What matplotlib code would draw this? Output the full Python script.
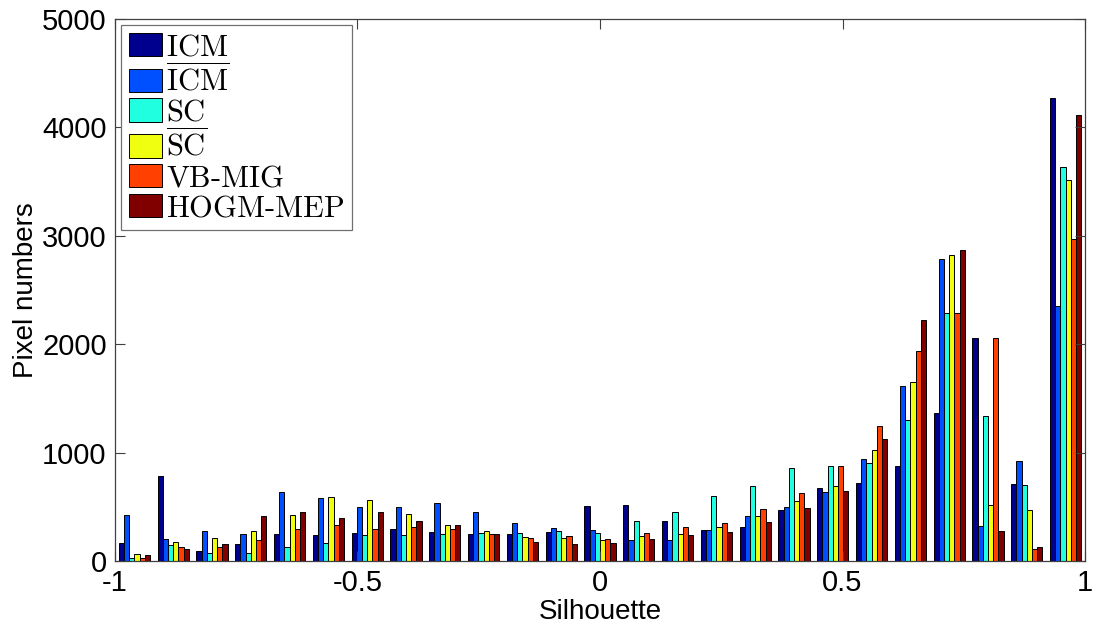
import matplotlib
matplotlib.use('Agg')
import matplotlib.pyplot as plt
import numpy as np

# Histogram of silhouette values, 25 bins between -1 and 1
centers = np.arange(-0.96, 0.97, 0.08)

icm     = [170, 788, 95, 157, 246, 240, 259, 292, 271, 246, 246, 271, 505, 517, 366, 283, 311, 471, 671, 723, 877, 1364, 2059, 711, 4275]
icm_bar = [425, 200, 280, 249, 640, 579, 496, 496, 539, 449, 354, 302, 283, 191, 191, 283, 412, 496, 634, 939, 1613, 2786, 323, 923, 2352]
sc      = [31, 148, 71, 71, 126, 166, 240, 240, 252, 259, 259, 277, 259, 366, 456, 603, 690, 856, 874, 905, 1299, 2284, 1336, 705, 3635]
sc_bar  = [65, 172, 209, 274, 425, 591, 563, 437, 335, 277, 222, 209, 191, 228, 246, 317, 412, 557, 690, 1022, 1650, 2826, 520, 468, 3515]
vb_mig  = [31, 129, 126, 191, 295, 335, 295, 311, 292, 252, 216, 228, 206, 259, 311, 348, 477, 625, 880, 1243, 1942, 2290, 2059, 111, 2970]
hogm    = [58, 108, 157, 419, 449, 400, 449, 369, 335, 252, 175, 154, 169, 203, 237, 265, 360, 486, 646, 1130, 2222, 2869, 274, 126, 4115]

series = [icm, icm_bar, sc, sc_bar, vb_mig, hogm]
labels = [r'$\mathrm{ICM}$', r'$\overline{\mathrm{ICM}}$', r'$\mathrm{SC}$',
          r'$\overline{\mathrm{SC}}$', r'$\mathrm{VB}$-$\mathrm{MIG}$', r'$\mathrm{HOGM}$-$\mathrm{MEP}$']
colors = ['#00008f', '#0050ff', '#20ffe0', '#f0ff10', '#ff4000', '#800000']

plt.rcParams['mathtext.fontset'] = 'cm'
plt.rcParams['axes.unicode_minus'] = False
plt.rcParams['font.family'] = ['Liberation Sans', 'DejaVu Sans']

fig = plt.figure(figsize=(10.93, 6.26), dpi=100)
ax = fig.add_axes([0.1052, 0.1038, 0.8875, 0.8658])

n = len(series)
w = 0.08 * 0.8 / n
for i, (vals, lab, col) in enumerate(zip(series, labels, colors)):
    ax.bar(centers + (i - (n - 1) / 2) * w, vals, width=w, color=col,
           edgecolor='black', linewidth=0.7, label=lab)

ax.set_xlim(-1, 1)
ax.set_ylim(0, 5000)
ax.set_xticks([-1, -0.5, 0, 0.5, 1])
ax.set_xticklabels(['-1', '-0.5', '0', '0.5', '1'])
ax.set_yticks(range(0, 5001, 1000))
ax.tick_params(direction='in', length=7, width=0.8, labelsize=21, color='#404040',
               top=True, right=True, pad=6)
for s in ax.spines.values():
    s.set_color('#404040')
    s.set_linewidth(0.9)

ax.set_xlabel('Silhouette', fontsize=20, labelpad=1)
ax.set_ylabel('Pixel numbers', fontsize=20, labelpad=2)

leg = ax.legend(loc='upper left', prop={'family': 'cmr10', 'size': 22},
                fancybox=False, framealpha=1, edgecolor='#707070',
                borderaxespad=0.2, handlelength=1.1, handleheight=0.8,
                handletextpad=0.12, labelspacing=0.05, borderpad=0.25)
leg.get_frame().set_linewidth(0.9)

fig.savefig('out.png', dpi=100)
